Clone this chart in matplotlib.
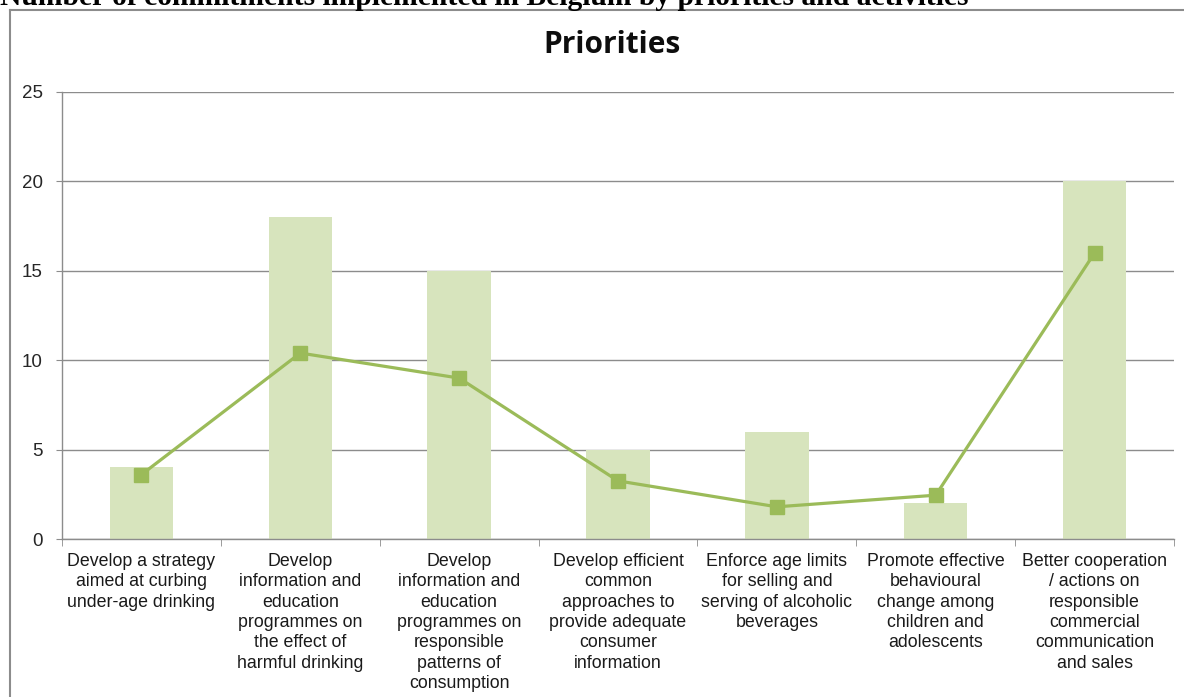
import matplotlib
matplotlib.use("Agg")
import matplotlib.pyplot as plt
from matplotlib.lines import Line2D
import numpy as np

categories = [
    "Develop a strategy\naimed at curbing\nunder-age drinking",
    "Develop\ninformation and\neducation\nprogrammes on\nthe effect of\nharmful drinking",
    "Develop\ninformation and\neducation\nprogrammes on\nresponsible\npatterns of\nconsumption",
    "Develop efficient\ncommon\napproaches to\nprovide adequate\nconsumer\ninformation",
    "Enforce age limits\nfor selling and\nserving of alcoholic\nbeverages",
    "Promote effective\nbehavioural\nchange among\nchildren and\nadolescents",
    "Better cooperation\n/ actions on\nresponsible\ncommercial\ncommunication\nand sales",
]
bar_values = [4, 18, 15, 5, 6, 2, 20]
line_values = [3.6, 10.4, 9.0, 3.25, 1.8, 2.45, 16.0]
yticks = [0, 5, 10, 15, 20, 25]

W, H = 1184, 697
fig = plt.figure(figsize=(W / 100, H / 100), dpi=100)
fig.patch.set_facecolor("white")

ax = fig.add_axes([62 / W, (H - 539) / H, (1174 - 62) / W, (539 - 92) / H])
x = np.arange(len(categories))
ax.bar(x, bar_values, width=0.4, color="#D7E4BD", zorder=2)
ax.plot(x, line_values, color="#9BBB59", lw=2.3, marker="s", markersize=10,
        zorder=3)

ax.set_xlim(-0.5, len(categories) - 0.5)
ax.set_ylim(0, 25)
ax.set_yticks(yticks)
ax.set_yticklabels([str(v) for v in yticks], fontsize=13.5,
                   family="Liberation Sans", color="#262626")
ax.yaxis.grid(True, color="#8C8C8C", lw=1, zorder=0)
ax.set_axisbelow(True)
ax.tick_params(axis="y", length=4, color="#8C8C8C", pad=10)

ax.set_xticks(x)
ax.set_xticklabels(categories, fontsize=12.8, family="Liberation Sans",
                   color="#1a1a1a", linespacing=1.26)
ax.set_xticks(np.arange(len(categories) + 1) - 0.5, minor=True)
ax.tick_params(axis="x", which="major", length=0, pad=10)
ax.tick_params(axis="x", which="minor", length=5, color="#8C8C8C")

for s in ["top", "right"]:
    ax.spines[s].set_visible(False)
for s in ["left", "bottom"]:
    ax.spines[s].set_color("#8C8C8C")
    ax.spines[s].set_linewidth(1)

# chart border (cut off at right and bottom)
fig.add_artist(Line2D([10 / W, 10 / W], [0, (H - 10) / H], color="#8C8C8C",
                      lw=1.5, transform=fig.transFigure))
fig.add_artist(Line2D([10 / W, 1], [(H - 10) / H, (H - 10) / H],
                      color="#8C8C8C", lw=1.5, transform=fig.transFigure))

fig.text(612 / W, (H - 45) / H, "Priorities", ha="center", va="center",
         fontsize=21.5, fontweight="bold", family="Open Sans", color="#0d0d0d")

fig.text(0, (H - 5) / H,
         "Number of commitments implemented in Belgium by priorities and activities",
         ha="left", va="baseline", fontsize=21.3, fontweight="bold",
         family="Liberation Serif", color="black")

fig.savefig("out.png", dpi=100, facecolor="white")
